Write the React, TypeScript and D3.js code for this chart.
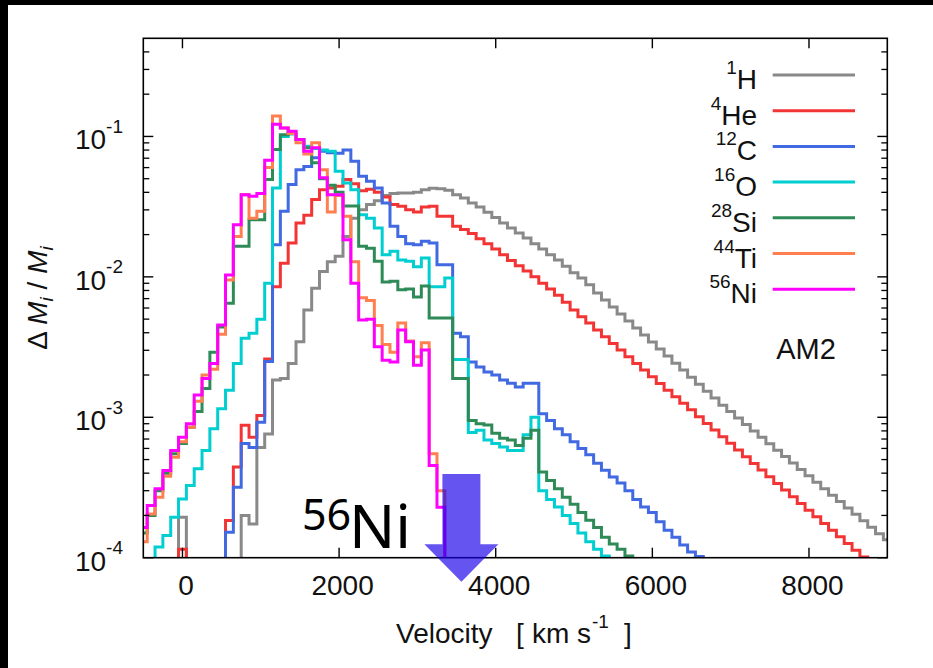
import React from "react";
import * as d3 from "d3";

const W = 933;
const H = 668;
const xDomain: [number, number] = [-500, 9000];
const yDomain: [number, number] = [1e-4, 0.5];
const binWidth = 100;
const xTicks = [0, 2000, 4000, 6000, 8000];
const yMajorExps = [-4, -3, -2, -1];

// 1H  (bins centred on multiples of 100 km/s, first bin centre = start)
const hStart = 0;
const hValues = [
  1.94e-4, null, null, null, null, null, null, null, 2.0e-4, 1.74e-4,
  6.1e-4, 7.6e-4, 1.84e-3, 1.89e-3, 2.42e-3, 3.45e-3, 5.8e-3, 8.3e-3, 0.0109, 0.0128,
  0.014, 0.0194, 0.0262, 0.0301, 0.0327, 0.0349, 0.0379, 0.0392, 0.0396, 0.0396,
  0.04, 0.0418, 0.0427, 0.0425, 0.0414, 0.0385, 0.0365, 0.0336, 0.0315, 0.0288,
  0.0265, 0.0242, 0.0223, 0.0205, 0.0189, 0.0172, 0.0158, 0.0144, 0.0132, 0.0119,
  0.0107, 9.8e-3, 8.8e-3, 7.69e-3, 6.85e-3, 6.1e-3, 5.44e-3, 4.85e-3, 4.32e-3, 3.85e-3,
  3.43e-3, 3.06e-3, 2.73e-3, 2.43e-3, 2.17e-3, 1.93e-3, 1.72e-3, 1.53e-3, 1.37e-3, 1.22e-3,
  1.1e-3, 9.87e-4, 8.89e-4, 8.0e-4, 7.2e-4, 6.48e-4, 5.83e-4, 5.25e-4, 4.72e-4, 4.25e-4,
  3.83e-4, 3.44e-4, 3.1e-4, 2.79e-4, 2.51e-4, 2.26e-4, 2.04e-4, 1.83e-4, 1.65e-4, 1.48e-4, 1.34e-4,
];

// 4He
const heStart = 0;
const heValues = [
  1.15e-4, null, null, null, null, null, 1.84e-4, 4.42e-4, 8.77e-4, 7.22e-4,
  1.03e-3, 2.6e-3, 8.5e-3, 0.0125, 0.0174, 0.0242, 0.0275, 0.0355, 0.0418, 0.043,
  0.0442, 0.0493, 0.046, 0.041, 0.042, 0.04, 0.037, 0.0327, 0.0318, 0.0301,
  0.029, 0.0314, 0.0318, 0.027, 0.027, 0.0229, 0.0217, 0.0204, 0.0187, 0.0172,
  0.0158, 0.0144, 0.0131, 0.012, 0.011, 0.01, 9.0e-3, 8.2e-3, 7.4e-3, 6.6e-3,
  5.8e-3, 5.2e-3, 4.7e-3, 4.18e-3, 3.75e-3, 3.36e-3, 3.01e-3, 2.7e-3, 2.42e-3, 2.17e-3,
  1.94e-3, 1.74e-3, 1.56e-3, 1.4e-3, 1.26e-3, 1.13e-3, 1.01e-3, 9.04e-4, 8.11e-4, 7.27e-4,
  6.52e-4, 5.84e-4, 5.24e-4, 4.69e-4, 4.21e-4, 3.77e-4, 3.38e-4, 3.03e-4, 2.72e-4, 2.43e-4,
  2.18e-4, 1.96e-4, 1.75e-4, 1.57e-4, 1.41e-4, 1.26e-4, 1.13e-4, 1.01e-4,
];

// 12C
const cStart = 600;
const cValues = [
  1.52e-4, 3.18e-4, 6.5e-4, 6.1e-4, 9.2e-4, 2.5e-3, 0.0169, 0.0293, 0.0455, 0.058,
  0.061, 0.0704, 0.0785, 0.0765, 0.076, 0.08, 0.0667, 0.052, 0.048, 0.043,
  0.0336, 0.0229, 0.0194, 0.0172, 0.0169, 0.0179, 0.0174, 0.0122, 0.0122, 3.96e-3,
  3.75e-3, 2.48e-3, 2.28e-3, 2.1e-3, 2.0e-3, 1.84e-3, 1.75e-3, 1.64e-3, 1.75e-3, 1.75e-3,
  1.06e-3, 9.5e-4, 8.3e-4, 7.5e-4, 6.7e-4, 6.0e-4, 5.4e-4, 4.7e-4, 4.2e-4, 3.75e-4,
  3.4e-4, 3.0e-4, 2.6e-4, 2.3e-4, 2.1e-4, 1.8e-4, 1.57e-4, 1.4e-4, 1.23e-4, 1.1e-4, 1.02e-4,
];

// 16O
const oStart = -300;
const oValues = [
  1.19e-4, 1.44e-4, 1.94e-4, 2.62e-4, 3.27e-4, 4.3e-4, 5.8e-4, 8.3e-4, 1.15e-3, 1.56e-3,
  2.42e-3, 3.65e-3, 3.96e-3, 5.0e-3, 9.0e-3, 0.043, 0.1, 0.104, 0.095, 0.085,
  0.082, 0.08, 0.0785, 0.0565, 0.0467, 0.0418, 0.0277, 0.0262, 0.0223, 0.0144,
  0.0152, 0.0132, 0.0129, 0.0118, 0.0136, 8.5e-3, 8.5e-3, 9.8e-3, 2.58e-3, 2.58e-3,
  7.8e-4, 8.1e-4, 6.9e-4, 6.5e-4, 6.15e-4, 5.8e-4, 5.8e-4, 7.5e-4, 1.0e-3, 3.0e-4,
  2.6e-4, 2.3e-4, 2.0e-4, 1.75e-4, 1.5e-4, 1.3e-4, 1.15e-4, 1.03e-4,
];

// 28Si
const siStart = -500;
const siValues = [
  1.5e-4, 2.0e-4, 3.0e-4, 4.0e-4, 5.5e-4, 6.5e-4, 8.5e-4, 1.1e-3, 1.6e-3, 2.9e-3,
  4.4e-3, 6.5e-3, 0.0165, 0.0165, 0.0255, 0.0255, 0.0493, 0.0807, 0.103, 0.107,
  0.095, 0.083, 0.065, 0.05, 0.045, 0.04, 0.032, 0.032, 0.0165, 0.016,
  0.0129, 9.2e-3, 9.3e-3, 8.1e-3, 8.2e-3, 7.2e-3, 8.6e-3, 5.1e-3, 5.1e-3, 5.1e-3,
  1.89e-3, 1.89e-3, 9.5e-4, 9.0e-4, 8.8e-4, 7.7e-4, 7.1e-4, 6.9e-4, 6.3e-4, 7.1e-4,
  8.1e-4, 4.07e-4, 3.55e-4, 3.1e-4, 2.7e-4, 2.4e-4, 2.1e-4, 1.85e-4, 1.64e-4, 1.4e-4,
  1.25e-4, 1.15e-4, 1.03e-4,
];

// 44Ti
const tiStart = -500;
const tiValues = [
  1.3e-4, 2.05e-4, 2.7e-4, 3.8e-4, 5.2e-4, 6.7e-4, 8.5e-4, 1.3e-3, 2.0e-3, 2.2e-3,
  3.9e-3, 9.5e-3, 0.0194, 0.0385, 0.0262, 0.0293, 0.06, 0.14, 0.115, 0.105,
  0.09, 0.075, 0.09, 0.058, 0.029, 0.038, 0.027, 0.0128, 7.1e-3, 6.8e-3,
  4.5e-3, 3.3e-3, 2.9e-3, 4.7e-3, 3.5e-3, 2.7e-3, 3.4e-3, 5.5e-4, 3.0e-4,
];

// 56Ni
const niStart = -500;
const niValues = [
  1.64e-4, 2.35e-4, 3.1e-4, 4.18e-4, 5.8e-4, 7.2e-4, 9.0e-4, 1.44e-3, 1.89e-3, 2.42e-3,
  4.54e-3, 0.0103, 0.0235, 0.0385, 0.0375, 0.0392, 0.0678, 0.122, 0.115, 0.109,
  0.0952, 0.0785, 0.083, 0.0507, 0.0385, 0.0385, 0.0184, 9.0e-3, 4.93e-3, 5.0e-3,
  3.18e-3, 2.55e-3, 2.48e-3, 4.18e-3, 3.45e-3, 2.35e-3, 3.01e-3, 4.54e-4, 2.29e-4,
];

const massNumbers = ["1", "4", "12", "16", "28", "44", "56"];
const symbols = ["H", "He", "C", "O", "Si", "Ti", "Ni"];
const colors = ["#898989", "#f23434", "#4169e1", "#00ced1", "#2e8b57", "#ff7f50", "#ff00ff"];
const starts = [hStart, heStart, cStart, oStart, siStart, tiStart, niStart];
const valueSets = [hValues, heValues, cValues, oValues, siValues, tiValues, niValues];

const modelLabel = "AM2";
const arrowLabelMass = "56";
const arrowLabelSym = "Ni";
const arrowVelocity = 3600;

const FONT = "'Liberation Sans', Arial, Helvetica, sans-serif";

export default function App() {
  const left = 143.3, right = 887.3, top = 38.3, bottom = 557.7;
  const x = d3.scaleLinear().domain(xDomain).range([left, right]);
  const y = d3.scaleLog().domain(yDomain).range([bottom, top]);
  const FLOOR = 1e-6;

  const line = d3
    .line<[number, number]>()
    .x((d) => x(d[0]))
    .y((d) => y(d[1]))
    .curve(d3.curveStepAfter);

  const pathFor = (start: number, values: (number | null)[]) => {
    const e0 = start - binWidth / 2;
    const pts: [number, number][] = [[e0, FLOOR]];
    values.forEach((v, i) => pts.push([e0 + i * binWidth, v == null ? FLOOR : v]));
    const eN = e0 + values.length * binWidth;
    const last = values[values.length - 1];
    pts.push([eN, last == null ? FLOOR : last]);
    pts.push([eN, FLOOR]);
    return line(pts) || "";
  };

  const minor: number[] = [];
  yMajorExps.forEach((e) => {
    for (let k = 2; k <= 9; k++) {
      const v = k * Math.pow(10, e);
      if (v < yDomain[1] * 0.999) minor.push(v);
    }
  });

  const legendTop = 75;
  const legendStep = 35.7;

  // arrow geometry (pixels derived from the scale)
  const ax = x(arrowVelocity) - 3;
  const shaftHalf = 19;
  const headHalf = 37;
  const shaftTop = 474;
  const headBase = 544.3;
  const tip = 581.7;

  return (
    <svg
      width={W}
      height={H}
      style={{ position: "absolute", left: 0, top: 0 }}
      fontFamily={FONT}
    >
      <rect x={0} y={0} width={W} height={H} fill="#fff" />
      <rect x={0} y={0} width={W} height={5} fill="#000" />
      <rect x={0} y={0} width={8} height={H} fill="#000" />
      <defs>
        <clipPath id="plotClip">
          <rect x={left} y={top} width={right - left} height={bottom - top} />
        </clipPath>
      </defs>

      <g clipPath="url(#plotClip)">
        {valueSets.map((vals, i) => (
          <path
            key={symbols[i]}
            d={pathFor(starts[i], vals)}
            fill="none"
            stroke={colors[i]}
            strokeWidth={3}
            strokeLinejoin="miter"
          />
        ))}
      </g>

      {/* frame */}
      <rect x={left} y={top} width={right - left} height={bottom - top} fill="none" stroke="#000" strokeWidth={1.6} />

      {/* y ticks */}
      {yMajorExps.map((e) => {
        const yy = y(Math.pow(10, e));
        return (
          <g key={"ym" + e}>
            <line x1={left} x2={left + 10} y1={yy} y2={yy} stroke="#000" strokeWidth={1.4} />
            <line x1={right} x2={right - 10} y1={yy} y2={yy} stroke="#000" strokeWidth={1.4} />
            <text x={123} y={yy + 13} textAnchor="end" fontSize={28} fill="#111">
              10
              <tspan fontSize={19} dy={-16.5}>{String(e)}</tspan>
            </text>
          </g>
        );
      })}
      {minor.map((v, i) => {
        const yy = y(v);
        return (
          <g key={"yn" + i}>
            <line x1={left} x2={left + 6} y1={yy} y2={yy} stroke="#000" strokeWidth={1.3} />
            <line x1={right} x2={right - 6} y1={yy} y2={yy} stroke="#000" strokeWidth={1.3} />
          </g>
        );
      })}

      {/* x ticks */}
      {xTicks.map((t) => {
        const xx = x(t);
        return (
          <g key={"x" + t}>
            <line x1={xx} x2={xx} y1={bottom} y2={bottom - 10} stroke="#000" strokeWidth={1.4} />
            <line x1={xx} x2={xx} y1={top} y2={top + 10} stroke="#000" strokeWidth={1.4} />
            <text x={xx + 3.5} y={595} textAnchor="middle" fontSize={28} fill="#111">
              {t}
            </text>
          </g>
        );
      })}

      {/* axis titles */}
      <text y={643} fontSize={28} fill="#111">
        <tspan x={396}>Velocity</tspan>
        <tspan x={516}>[</tspan>
        <tspan x={532}>km</tspan>
        <tspan x={577}>s</tspan>
        <tspan x={592} fontSize={19} dy={-15}>-1</tspan>
        <tspan x={624} dy={15}>]</tspan>
      </text>
      <text
        transform="translate(47,298) rotate(-90)"
        textAnchor="middle"
        fontSize={28}
        fill="#111"
      >
        Δ <tspan fontStyle="italic">M</tspan>
        <tspan fontStyle="italic" fontSize={19} dy={6}>i</tspan>
        <tspan dy={-6}> / </tspan>
        <tspan fontStyle="italic">M</tspan>
        <tspan fontStyle="italic" fontSize={19} dy={6}>i</tspan>
      </text>

      {/* legend */}
      {symbols.map((s, i) => {
        const ly = legendTop + i * legendStep;
        return (
          <g key={"lg" + s}>
            <text x={757} y={ly + 14} textAnchor="end" fontSize={28} fill="#111">
              <tspan fontSize={19} dy={-15}>{massNumbers[i]}</tspan>
              <tspan dy={15}>{s}</tspan>
            </text>
            <line x1={772.7} x2={855} y1={ly} y2={ly} stroke={colors[i]} strokeWidth={3} />
          </g>
        );
      })}
      <text x={806} y={359} textAnchor="middle" fontSize={29} fill="#111">
        {modelLabel}
      </text>

      {/* annotation */}
      <polygon
        points={[
          [ax - shaftHalf, shaftTop],
          [ax + shaftHalf, shaftTop],
          [ax + shaftHalf, headBase],
          [ax + headHalf, headBase],
          [ax, tip],
          [ax - headHalf, headBase],
          [ax - shaftHalf, headBase],
        ]
          .map((p) => p.join(","))
          .join(" ")}
        fill="#1900e8"
        fillOpacity={0.67}
      />
      <text x={302} y={530} fontSize={43} fill="#000" fontFamily="'Noto Sans', 'Open Sans', sans-serif">
        {arrowLabelMass}
      </text>
      <text x={349} y={548} fontSize={61} fill="#000" fontFamily="'Noto Sans', 'Open Sans', sans-serif">
        {arrowLabelSym}
      </text>
    </svg>
  );
}
